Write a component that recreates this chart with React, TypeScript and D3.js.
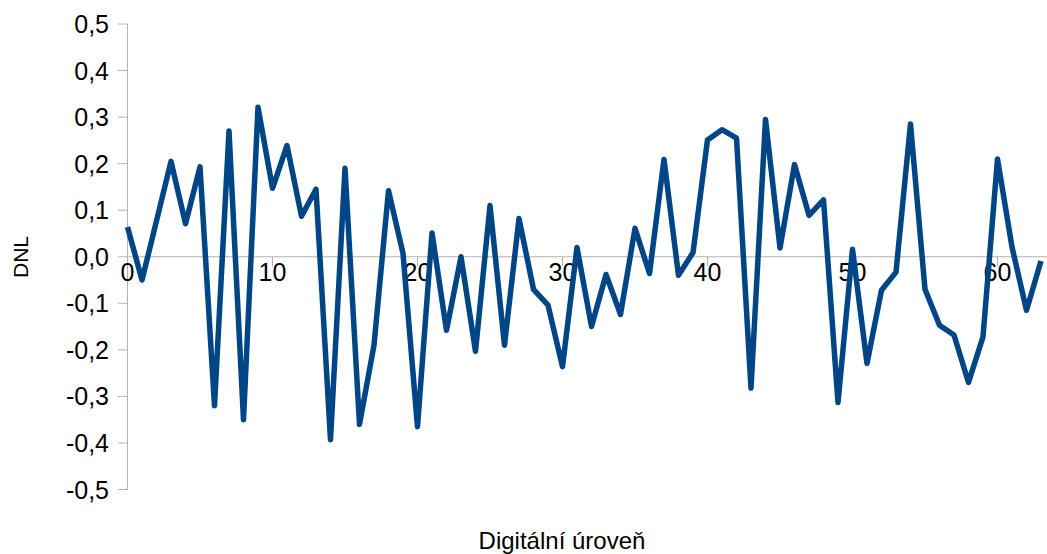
import React from "react";
import * as d3 from "d3";

const levels: number[] = Array.from({ length: 64 }, (_, i) => i);
const dnl: number[] = [
  0.064, -0.05, 0.077, 0.205, 0.071, 0.193, -0.32, 0.27, -0.35, 0.321,
  0.147, 0.239, 0.087, 0.145, -0.393, 0.19, -0.36, -0.19, 0.142, 0.007,
  -0.365, 0.051, -0.158, 0.0, -0.203, 0.11, -0.19, 0.082, -0.07, -0.104,
  -0.236, 0.02, -0.15, -0.038, -0.124, 0.061, -0.036, 0.209, -0.04, 0.009,
  0.251, 0.273, 0.255, -0.282, 0.295, 0.019, 0.198, 0.089, 0.122, -0.313,
  0.016, -0.229, -0.072, -0.033, 0.285, -0.07, -0.147, -0.168, -0.27, -0.172,
  0.21, 0.021, -0.115, -0.009,
];
const yTicks: number[] = [-0.5, -0.4, -0.3, -0.2, -0.1, 0, 0.1, 0.2, 0.3, 0.4, 0.5];
const yTickLabels: string[] = ["-0,5", "-0,4", "-0,3", "-0,2", "-0,1", "0,0", "0,1", "0,2", "0,3", "0,4", "0,5"];
const xTicks: number[] = [0, 10, 20, 30, 40, 50, 60];
const xTitle = "Digitální úroveň";
const yTitle = "DNL";

const W = 1047;
const H = 554;
const FONT = "'Liberation Sans', Arial, sans-serif";

export default function App() {
  const x = d3.scaleLinear().domain([0, 63]).range([127.5, 1041]);
  const y = d3.scaleLinear().domain([-0.5, 0.5]).range([489.5, 24]);
  const line = d3
    .line<number>()
    .x((_, i) => x(levels[i]))
    .y((d) => y(d));
  const axisColor = "#b3b3b3";
  const y0 = y(0);
  return (
    <svg
      width={W}
      height={H}
      style={{ position: "absolute", left: 0, top: 0, background: "#fff" }}
      fontFamily={FONT}
    >
      <rect x={0} y={0} width={W} height={H} fill="#fff" />
      {/* y axis */}
      <line x1={x(0)} x2={x(0)} y1={y(0.5)} y2={y(-0.5)} stroke={axisColor} strokeWidth={1} />
      {yTicks.map((t, i) => (
        <g key={"yt" + i}>
          <line x1={x(0) - 9.5} x2={x(0)} y1={y(t)} y2={y(t)} stroke={axisColor} strokeWidth={1} />
          <text x={109} y={y(t) + 9} textAnchor="end" fontSize={25} fill="#000">
            {yTickLabels[i]}
          </text>
        </g>
      ))}
      {/* x axis */}
      <line x1={x(0)} x2={W} y1={y0} y2={y0} stroke={axisColor} strokeWidth={1} />
      {xTicks.map((t) => (
        <g key={"xt" + t}>
          <line x1={x(t)} x2={x(t)} y1={y0} y2={y0 + 9.5} stroke={axisColor} strokeWidth={1} />
          <text x={x(t)} y={y0 + 24} textAnchor="middle" fontSize={25} fill="#000">
            {t}
          </text>
        </g>
      ))}
      {/* series */}
      <path d={line(dnl) || ""} fill="none" stroke="#004586" strokeWidth={5.5} strokeLinejoin="round" strokeLinecap="butt" />
      {/* titles */}
      <text x={562} y={549} textAnchor="middle" fontSize={24} fill="#000">
        {xTitle}
      </text>
      <text
        transform={`translate(28,257) rotate(-90)`}
        textAnchor="middle"
        fontSize={21}
        fill="#000"
      >
        {yTitle}
      </text>
    </svg>
  );
}
